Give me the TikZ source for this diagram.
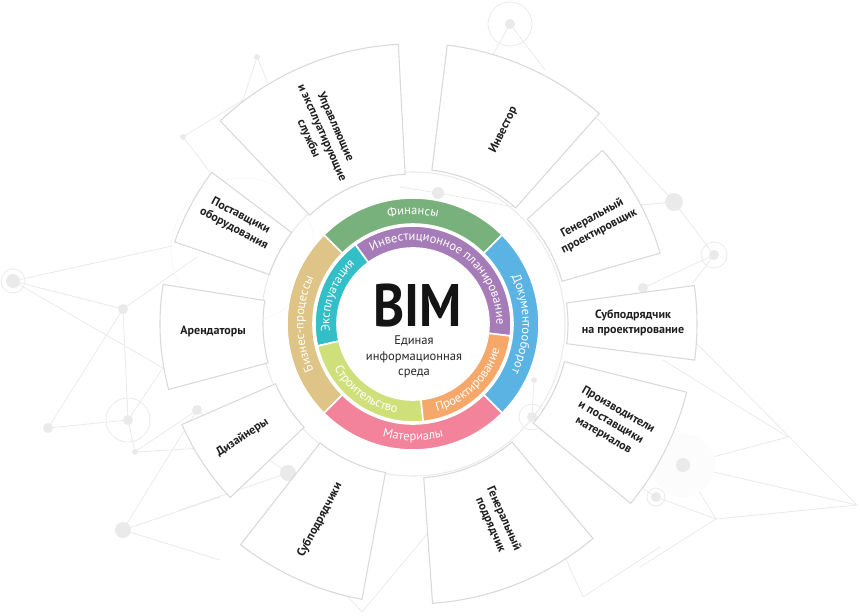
\documentclass[tikz,border=0pt]{standalone}
\usepackage{fontspec}
\setmainfont{PT Sans}
\usepackage{graphicx}
\usetikzlibrary{decorations.text}

\definecolor{finance}{HTML}{79B17D}
\definecolor{docflow}{HTML}{5BB3E4}
\definecolor{materials}{HTML}{F2839A}
\definecolor{business}{HTML}{DEC486}
\definecolor{invest}{HTML}{A67CB8}
\definecolor{exploit}{HTML}{32BFC7}
\definecolor{build}{HTML}{CFE07B}
\definecolor{design}{HTML}{F6A76A}
\definecolor{boxline}{HTML}{D9D9D9}
\definecolor{netgray}{HTML}{EAEAEA}

\newcommand{\ringfont}{\fontsize{9.4}{11}\selectfont}

\begin{document}
\begin{tikzpicture}[x=0.75pt, y=0.75pt,
    sector/.style={draw=boxline, line width=0.8pt, fill=white},
    band/.style={draw=white, line width=1.2pt},
    boxlabel/.style={font=\bfseries\fontsize{9}{11}\selectfont, align=center, text=black!88, inner sep=0pt},
    netline/.style={draw=netgray, line width=0.6pt},
    netdot/.style={fill=netgray},
    netring/.style={draw=netgray, line width=0.6pt},
    ringtext/.style={decorate, decoration={text along path, text color=white, text align=center}}]

   \useasboundingbox (-413,-291) rectangle (447,324);

   \coordinate (A) at (-400,43);
   \coordinate (B) at (-290,15);
   \coordinate (C) at (-365,-104);
   \coordinate (D) at (-285,-96);
   \coordinate (E) at (-278,-128);
   \coordinate (F) at (-290,-206);
   \coordinate (G) at (-216,-86);
   \coordinate (H) at (-241,78);
   \coordinate (H2) at (-216,67);
   \coordinate (H3) at (-250,-44);
   \coordinate (H4) at (-193,-123);
   \coordinate (I) at (-156,267);
   \coordinate (I2) at (-170,224);
   \coordinate (I3) at (-145,241);
   \coordinate (J) at (-230,187);
   \coordinate (J2) at (-203,152);
   \coordinate (K) at (-125,-149);
   \coordinate (K2) at (-233,-186);
   \coordinate (L) at (25,131);
   \coordinate (L2) at (-13,137);
   \coordinate (L3) at (102,117);
   \coordinate (M) at (97,300);
   \coordinate (M2) at (77,264);
   \coordinate (M3) at (132,254);
   \coordinate (N) at (261,122);
   \coordinate (N2) at (184,206);
   \coordinate (N3) at (227,119);
   \coordinate (O) at (301,69);
   \coordinate (O2) at (280,41);
   \coordinate (P) at (230,36);
   \coordinate (Q) at (121,-56);
   \coordinate (R) at (119,-93);
   \coordinate (S) at (270,-141);
   \coordinate (T) at (243,-173);
   \coordinate (U) at (303,-195);
   \coordinate (V) at (444,-181);
   \coordinate (W) at (375,-113);
   \coordinate (W2) at (250,-36);
   \coordinate (W3) at (280,-16);
   \coordinate (X) at (-51,-288);
   \coordinate (X2) at (-90,-246);
   \coordinate (X3) at (20,-203);
   \coordinate (Y) at (170,-273);
   \coordinate (Y2) at (247,-223);
   \coordinate (Y3) at (227,-243);
   \coordinate (Y4) at (134,-193);
   \coordinate (Z) at (-193,-236);
   \coordinate (Z2) at (-193,-173);

   \draw[netline] (A) -- (H) (A) -- (B) (A) -- (H3) (B) -- (D) (B) -- (C) (B) -- (H2)
      (C) -- (D) (D) -- (E) (D) -- (H3) (E) -- (G) (E) -- (H4) (F) -- (G) (F) -- (Z)
      (F) -- (Z2) (G) -- (K) (K2) -- (K) (I) -- (I2) (I) -- (I3) (J) -- (J2) (J) -- (I2)
      (L) -- (L2) (L) -- (L3) (M) -- (M2) (M) -- (M3) (N) -- (N2) (N) -- (N3) (N) -- (O)
      (O) -- (P) (O) -- (O2) (W3) -- (V) (W2) -- (W) (W) -- (S) (S) -- (V) (V) -- (U)
      (S) -- (U) (T) -- (U) (Y3) -- (U) (T) -- (R) (Q) -- (R) (X) -- (X2) (X) -- (X3)
      (Y) -- (Y4) (Y) -- (Y2);

   \fill[netgray!15] (S) circle[radius=32];
   \draw[netgray!50] (-170,74) circle[radius=72];
   \fill[netdot] (A) circle[radius=7];
   \draw[netring] (A) circle[radius=12];
   \fill[netdot] (B) circle[radius=5];
   \fill[netdot] (C) circle[radius=5];
   \fill[netdot] (D) circle[radius=5];
   \draw[netring] (D) circle[radius=22];
   \fill[netdot] (E) circle[radius=3];
   \fill[netdot] (F) circle[radius=8];
   \fill[netdot] (G) circle[radius=5];
   \fill[netdot] (I) circle[radius=3];
   \fill[netdot] (J) circle[radius=3];
   \fill[netdot] (K) circle[radius=8];
   \fill[netdot] (L) circle[radius=6];
   \fill[netdot] (M) circle[radius=5];
   \draw[netring] (M) circle[radius=22];
   \fill[netdot] (N) circle[radius=9];
   \fill[netdot] (O) circle[radius=5];
   \draw[netring] (O) circle[radius=13];
   \fill[netdot] (P) circle[radius=5];
   \fill[netdot] (Q) circle[radius=3];
   \fill[netdot] (R) circle[radius=5];
   \draw[netring] (R) circle[radius=13];
   \fill[netdot] (S) circle[radius=7];
   \fill[netdot] (T) circle[radius=5];
   \draw[netring] (T) circle[radius=9];

   \draw[netgray, line width=0.8pt] (0,0) circle[radius=152];

   \draw[sector] (93:150) arc[start angle=93, end angle=133.5, radius=150] -- (133.5:280) arc[start angle=133.5, end angle=93, radius=280] -- cycle;
   \draw[sector] (48.5:155) arc[start angle=48.5, end angle=83, radius=155] -- (83:281) arc[start angle=83, end angle=48.5, radius=281] -- cycle;
   \draw[sector] (16:155) arc[start angle=16, end angle=42.5, radius=155] -- (42.5:257) arc[start angle=42.5, end angle=16, radius=257] -- cycle;
   \draw[sector] (-7.3:155) arc[start angle=-7.3, end angle=7.8, radius=155] -- (7.8:284) arc[start angle=7.8, end angle=-7.3, radius=284] -- cycle;
   \draw[sector] (-39.5:156) arc[start angle=-39.5, end angle=-14, radius=156] -- (-14:282) arc[start angle=-14, end angle=-39.5, radius=282] -- cycle;
   \draw[sector] (-86:154) arc[start angle=-86, end angle=-50, radius=154] -- (-50:280) arc[start angle=-50, end angle=-86, radius=280] -- cycle;
   \draw[sector] (232:151) arc[start angle=232, end angle=259.5, radius=151] -- (259.5:280) arc[start angle=259.5, end angle=232, radius=280] -- cycle;
   \draw[sector] (203.5:150) arc[start angle=203.5, end angle=223.5, radius=150] -- (223.5:252) arc[start angle=223.5, end angle=203.5, radius=252] -- cycle;
   \draw[sector] (171:150) arc[start angle=171, end angle=195, radius=150] -- (195:253) arc[start angle=195, end angle=171, radius=253] -- cycle;
   \draw[sector] (143:152) arc[start angle=143, end angle=161, radius=152] -- (161:252) arc[start angle=161, end angle=143, radius=252] -- cycle;

   \node[boxlabel, rotate=-66] (services) at (115.5:212) {Управляющие\\и эксплуатирующие\\службы};
   \node[boxlabel, rotate=64] (investor) at (65:214) {Инвестор};
   \node[boxlabel, rotate=28] (gendesigner) at (28.5:208) {Генеральный\\проектировщик};
   \node[boxlabel] (subdesigner) at (0.25:220) {Субподрядчик\\на проектирование};
   \node[boxlabel, rotate=-30] (producers) at (-26.5:221) {Производители\\и поставщики\\материалов};
   \node[boxlabel, rotate=-66] (gencontractor) at (-67:215) {Генеральный\\подрядчик};
   \node[boxlabel, rotate=62] (subcontractors) at (244.6:217) {Субподрядчики};
   \node[boxlabel, rotate=33.5] (designers) at (213.7:205) {Дизайнеры};
   \node[boxlabel] (tenants) at (182:200) {Арендаторы};
   \node[boxlabel, rotate=-28] (suppliers) at (150:203) {Поставщики\\оборудования};

   \fill[white] (0,0) circle[radius=127];

   \filldraw[band, fill=finance] (45:100) arc[start angle=45, end angle=135, radius=100] -- (135:126) arc[start angle=135, end angle=45, radius=126] -- cycle;
   \filldraw[band, fill=docflow] (-45:100) arc[start angle=-45, end angle=45, radius=100] -- (45:126) arc[start angle=45, end angle=-45, radius=126] -- cycle;
   \filldraw[band, fill=materials] (225:100) arc[start angle=225, end angle=315, radius=100] -- (315:126) arc[start angle=315, end angle=225, radius=126] -- cycle;
   \filldraw[band, fill=business] (135:100) arc[start angle=135, end angle=225, radius=100] -- (225:126) arc[start angle=225, end angle=135, radius=126] -- cycle;

   \filldraw[band, fill=invest] (-7:76) arc[start angle=-7, end angle=126, radius=76] -- (126:98) arc[start angle=126, end angle=-7, radius=98] -- cycle;
   \filldraw[band, fill=exploit] (126:76) arc[start angle=126, end angle=193, radius=76] -- (193:98) arc[start angle=193, end angle=126, radius=98] -- cycle;
   \filldraw[band, fill=build] (193:76) arc[start angle=193, end angle=276, radius=76] -- (276:98) arc[start angle=276, end angle=193, radius=98] -- cycle;
   \filldraw[band, fill=design] (276:76) arc[start angle=276, end angle=353, radius=76] -- (353:98) arc[start angle=353, end angle=276, radius=98] -- cycle;

   \path[ringtext, decoration={text={|\ringfont|Финансы}}] (135:109.5) arc[start angle=135, end angle=45, radius=109.5];
   \path[ringtext, decoration={text={|\ringfont|Документооборот}}] (45:109.5) arc[start angle=45, end angle=-45, radius=109.5];
   \path[ringtext, decoration={text={|\ringfont|Бизнес-процессы}}] (225:109.5) arc[start angle=225, end angle=135, radius=109.5];
   \path[ringtext, decoration={text={|\ringfont|Материалы}}] (225:116.5) arc[start angle=225, end angle=315, radius=116.5];
   \path[ringtext, decoration={text={|\ringfont|Инвестиционное планирование}}] (126:83.5) arc[start angle=126, end angle=-7, radius=83.5];
   \path[ringtext, decoration={text={|\ringfont|Эксплуатация}}] (193:83.5) arc[start angle=193, end angle=126, radius=83.5];
   \path[ringtext, decoration={text={|\ringfont|Строительство}}] (193:90.5) arc[start angle=193, end angle=276, radius=90.5];
   \path[ringtext, decoration={text={|\ringfont|Проектирование}}] (276:90.5) arc[start angle=276, end angle=353, radius=90.5];

   \node[inner sep=0pt, font=\bfseries\fontsize{45}{45}\selectfont, text=black!92] (bim) at (4.5,19) {\scalebox{0.88}[1]{BIM}};
   \node[inner sep=0pt, align=center, font=\fontsize{9.4}{11.6}\selectfont, text=black!85] (env) at (1,-33) {Единая\\информационная\\среда};
 \end{tikzpicture}
\end{document}
